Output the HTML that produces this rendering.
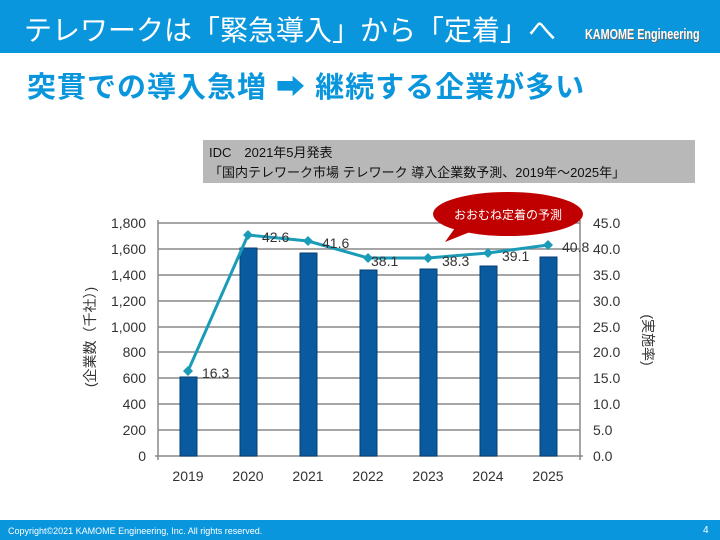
<!DOCTYPE html>
<html><head><meta charset="utf-8"><style>
body{margin:0;width:720px;height:540px;position:relative;background:#fff;font-family:"Liberation Sans","Noto Sans CJK JP",sans-serif;overflow:hidden}
.top{position:absolute;left:0;top:0;width:720px;height:53px;background:#0a96dc}
.t1{position:absolute;left:24px;top:9px;color:#fff;font-size:28px;letter-spacing:0px;white-space:nowrap}
.logo{position:absolute;left:585px;top:26px;color:#fff;font-size:15px;font-weight:bold;transform:scaleX(0.72);transform-origin:left;text-shadow:1px 1px 0 #666;white-space:nowrap}
.sub{position:absolute;left:27px;top:64px;color:#0a96dc;font-size:29px;font-weight:bold;letter-spacing:1px;white-space:nowrap}
.foot{position:absolute;left:0;top:520px;width:720px;height:20px;background:#0a96dc}
</style></head><body>
<div class="top"></div>
<div class="foot"></div>
<div class="t1">テレワークは「緊急導入」から「定着」へ</div>
<div class="logo">KAMOME Engineering</div>
<div class="sub">突貫での導入急増 ➡ 継続する企業が多い</div>
<svg width="720" height="540" style="position:absolute;left:0;top:0" font-family="Liberation Sans, Noto Sans CJK JP, sans-serif">
<rect x="203" y="140" width="492" height="43" fill="#b8b8b8"/>
<text x="209" y="157" font-size="13" fill="#111">IDC　2021年5月発表</text>
<text x="209" y="177" font-size="13" fill="#111">「国内テレワーク市場 テレワーク 導入企業数予測、2019年～2025年」</text>
<g stroke="#888" stroke-width="1.5">
<line x1="158" y1="223" x2="580" y2="223"/><line x1="158" y1="249" x2="580" y2="249"/><line x1="158" y1="275" x2="580" y2="275"/><line x1="158" y1="301" x2="580" y2="301"/><line x1="158" y1="327" x2="580" y2="327"/><line x1="158" y1="352" x2="580" y2="352"/><line x1="158" y1="378" x2="580" y2="378"/><line x1="158" y1="404" x2="580" y2="404"/><line x1="158" y1="430" x2="580" y2="430"/>
<line x1="158" y1="220" x2="158" y2="460"/><line x1="580" y1="220" x2="580" y2="460"/><line x1="155" y1="456" x2="583" y2="456"/>
</g>
<g fill="#0a5aa0" stroke="#073d70" stroke-width="1">
<rect x="180" y="377" width="17" height="79"/><rect x="240" y="248" width="17" height="208"/><rect x="300" y="253" width="17" height="203"/><rect x="360" y="270" width="17" height="186"/><rect x="420" y="269" width="17" height="187"/><rect x="480" y="266" width="17" height="190"/><rect x="540" y="257" width="17" height="199"/>
</g>
<polyline points="188,371 248,235 308,241 368,258 428,258 488,253 548,245" fill="none" stroke="#1a9bb8" stroke-width="3"/>
<g fill="#1a9bb8">
<path d="M188 366l5 5-5 5-5-5z"/><path d="M248 230l5 5-5 5-5-5z"/><path d="M308 236l5 5-5 5-5-5z"/><path d="M368 253l5 5-5 5-5-5z"/><path d="M428 253l5 5-5 5-5-5z"/><path d="M488 248l5 5-5 5-5-5z"/><path d="M548 240l5 5-5 5-5-5z"/>
</g>
<g font-size="14" fill="#333">
<text x="202" y="378">16.3</text><text x="262" y="242">42.6</text><text x="322" y="248">41.6</text><text x="371" y="266">38.1</text><text x="442" y="266">38.3</text><text x="502" y="261">39.1</text><text x="562" y="252">40.8</text>
</g>
<g font-size="14" fill="#333" text-anchor="end">
<text x="146" y="228">1,800</text><text x="146" y="254">1,600</text><text x="146" y="280">1,400</text><text x="146" y="306">1,200</text><text x="146" y="332">1,000</text><text x="146" y="357">800</text><text x="146" y="383">600</text><text x="146" y="409">400</text><text x="146" y="435">200</text><text x="146" y="461">0</text>
</g>
<g font-size="14" fill="#333">
<text x="593" y="228">45.0</text><text x="593" y="254">40.0</text><text x="593" y="280">35.0</text><text x="593" y="306">30.0</text><text x="593" y="332">25.0</text><text x="593" y="357">20.0</text><text x="593" y="383">15.0</text><text x="593" y="409">10.0</text><text x="593" y="435">5.0</text><text x="593" y="461">0.0</text>
</g>
<g font-size="14" fill="#333" text-anchor="middle">
<text x="188" y="481">2019</text><text x="248" y="481">2020</text><text x="308" y="481">2021</text><text x="368" y="481">2022</text><text x="428" y="481">2023</text><text x="488" y="481">2024</text><text x="548" y="481">2025</text>
</g>
<text transform="translate(95,337) rotate(-90)" font-size="14" fill="#333" text-anchor="middle">(企業数（千社）)</text>
<text transform="translate(643,340) rotate(90)" font-size="14" fill="#333" text-anchor="middle">(実施率)</text>
<path d="M455 228 L445 242 L475 230z" fill="#c00000"/>
<ellipse cx="508" cy="214" rx="75" ry="22" fill="#c00000"/>
<text x="508" y="219" font-size="12" fill="#fff" text-anchor="middle">おおむね定着の予測</text>
<text x="8" y="534" font-size="9" fill="#fff">Copyright©2021 KAMOME Engineering, Inc. All rights reserved.</text>
<text x="703" y="533" font-size="10" fill="#fff">4</text>
</svg>
</body></html>
